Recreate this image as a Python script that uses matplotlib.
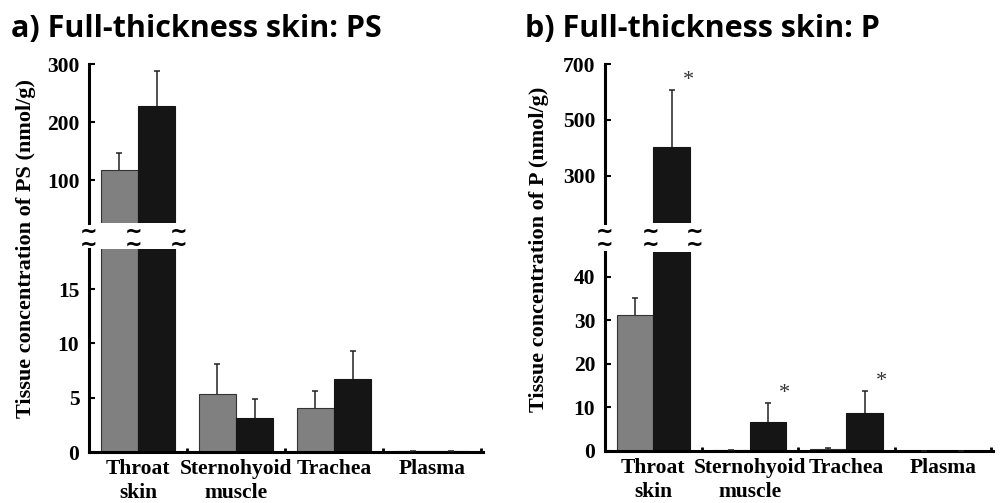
import matplotlib
matplotlib.use("Agg")
import matplotlib.pyplot as plt
import matplotlib.transforms as mtransforms
import numpy as np

categories = ["Throat\nskin", "Sternohyoid\nmuscle", "Trachea", "Plasma"]

ps_gray = [117, 5.34, 4.05, 0.1]
ps_gray_err = [29, 2.75, 1.55, 0.0]
ps_black = [228, 3.13, 6.7, 0.05]
ps_black_err = [60, 1.75, 2.6, 0.0]

p_gray = [31.3, 0.2, 0.5, 0.05]
p_gray_err = [3.9, 0.0, 0.2, 0.0]
p_black = [404, 6.7, 8.7, 0.05]
p_black_err = [204, 4.3, 5.1, 0.0]
p_stars = [True, True, True, False]

ps_upper_ticks = [100, 200, 300]
ps_lower_ticks = [0, 5, 10, 15]
p_upper_ticks = [300, 500, 700]
p_lower_ticks = [0, 10, 20, 30, 40]

GRAY = "#808080"
BLACK = "#151515"
serif = "Liberation Serif"

plt.rcParams["font.family"] = [serif, "DejaVu Serif"]
plt.rcParams["font.weight"] = "bold"

fig = plt.figure(figsize=(10, 5.03), dpi=100)

def px(x0, y_top, x1, y_bot):
    W, H = 1000, 503
    return [x0 / W, 1 - y_bot / H, (x1 - x0) / W, (y_bot - y_top) / H]

def panel(xl, xr, up_top, up_bot, lo_top, lo_bot, up_lim, lo_lim,
          up_ticks, lo_ticks, gray, gerr, black, berr, stars, ylabel, ylab_x,
          title, title_x, breaks_x):
    ax_up = fig.add_axes(px(xl, up_top, xr, up_bot))
    ax_lo = fig.add_axes(px(xl, lo_top, xr, lo_bot))
    x = np.arange(len(categories))
    w = 0.38
    for ax in (ax_up, ax_lo):
        ax.bar(x - w / 2, gray, w, color=GRAY, edgecolor="#333333", linewidth=0.8, zorder=2)
        ax.bar(x + w / 2, black, w, color=BLACK, edgecolor=BLACK, linewidth=0.8, zorder=2)
        for xs, vals, errs in ((x - w / 2, gray, gerr), (x + w / 2, black, berr)):
            eb = ax.errorbar(xs, vals, yerr=[np.zeros(len(vals)), errs], fmt="none",
                             ecolor="#222222", elinewidth=1.1, capsize=2.5,
                             capthick=1.1, zorder=3)
            caps = eb[1]
            if len(caps) == 2:
                caps[0].set_visible(False)
        ax.set_xlim(-0.5, 3.52)
        ax.spines["right"].set_visible(False)
        ax.spines["top"].set_visible(False)
        ax.spines["left"].set_linewidth(2.2)
        ax.tick_params(axis="y", direction="in", length=4, width=1.5, pad=7,
                       labelsize=15.5)
    ax_up.set_ylim(*up_lim)
    ax_lo.set_ylim(*lo_lim)
    if stars is not None:
        for i, s in enumerate(stars):
            if s:
                top = black[i] + berr[i]
                target = ax_up if top > lo_lim[1] else ax_lo
                target.text(x[i] + w / 2 + 0.17, top, "*", ha="center",
                            va="bottom", fontsize=16, fontweight="normal",
                            color="#333333")
    ax_up.spines["bottom"].set_visible(False)
    ax_up.set_xticks([])
    ax_up.set_yticks(up_ticks)
    ax_lo.set_yticks(lo_ticks)
    ax_lo.spines["bottom"].set_linewidth(2.2)
    ax_lo.set_xticks(x)
    ax_lo.set_xticklabels(categories, fontsize=15.5, linespacing=1.3)
    ax_lo.tick_params(axis="x", length=0, pad=5)
    ax_lo.set_xticks([0.5, 1.5, 2.5, 3.5], minor=True)
    ax_lo.tick_params(axis="x", which="minor", direction="in", length=3, width=2)
    fig.text(ylab_x / 1000, 1 - 249 / 503, ylabel, rotation=90, ha="center", va="center",
             fontsize=16)
    fig.text(title_x / 1000, 1 - 37 / 503, title, ha="left", va="baseline",
             fontsize=22, fontweight="bold", family="Open Sans")
    trans = mtransforms.blended_transform_factory(ax_lo.transData, fig.transFigure)
    for bx in breaks_x:
        fig.text(bx, 1 - 238 / 503, "~\n~", transform=trans, ha="center", va="center",
                 fontsize=15, fontweight="bold", family="DejaVu Sans", linespacing=0.55)

panel(89, 483, 64, 223, 249, 452, (26, 300), (0, 18.7),
      ps_upper_ticks, ps_lower_ticks, ps_gray, ps_gray_err, ps_black, ps_black_err,
      None, "Tissue concentration of PS (nmol/g)", 26,
      "a) Full-thickness skin: PS", 11, [-0.5, -0.05, 0.41])

panel(605, 993, 64, 223, 252, 451, (131, 700), (0, 45.7),
      p_upper_ticks, p_lower_ticks, p_gray, p_gray_err, p_black, p_black_err,
      p_stars, "Tissue concentration of P (nmol/g)", 539,
      "b) Full-thickness skin: P", 525, [-0.5, -0.03, 0.43])

fig.savefig("out.png", dpi=100)
